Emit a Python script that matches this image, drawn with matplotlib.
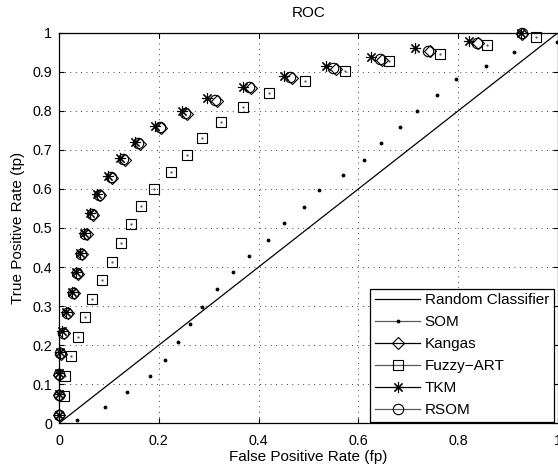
import matplotlib
matplotlib.use("Agg")
import matplotlib.pyplot as plt
from matplotlib.lines import Line2D

plt.rcParams['font.family'] = ['Liberation Sans', 'DejaVu Sans']

# ---- data ----
random_x = [0.0, 1.0]
random_y = [0.0, 1.0]

som_x = [0.037, 0.092, 0.136, 0.182, 0.213, 0.238, 0.263, 0.287, 0.317, 0.349,
         0.381, 0.419, 0.451, 0.491, 0.522, 0.569, 0.612, 0.646, 0.684, 0.718,
         0.757, 0.796, 0.856, 0.911, 0.997]
som_y = [0.008, 0.042, 0.081, 0.120, 0.163, 0.208, 0.254, 0.299, 0.343, 0.387,
         0.429, 0.470, 0.513, 0.554, 0.597, 0.635, 0.674, 0.717, 0.758, 0.800,
         0.840, 0.881, 0.915, 0.950, 0.976]

rsom_x = [0.000, 0.000, 0.000, 0.003, 0.009, 0.017, 0.029, 0.037, 0.045, 0.053,
          0.067, 0.080, 0.104, 0.129, 0.159, 0.202, 0.253, 0.313, 0.380, 0.463,
          0.550, 0.643, 0.739, 0.837, 0.927]
rsom_y = [0.020, 0.073, 0.125, 0.179, 0.232, 0.283, 0.334, 0.384, 0.434, 0.485,
          0.535, 0.585, 0.630, 0.677, 0.718, 0.758, 0.794, 0.828, 0.860, 0.886,
          0.910, 0.932, 0.954, 0.974, 0.998]

kangas_x = [0.001, 0.001, 0.001, 0.004, 0.010, 0.019, 0.031, 0.039, 0.047, 0.056,
            0.069, 0.083, 0.107, 0.132, 0.162, 0.205, 0.256, 0.317, 0.384, 0.467,
            0.555, 0.648, 0.743, 0.840, 0.928]
kangas_y = [0.020, 0.072, 0.124, 0.178, 0.231, 0.282, 0.333, 0.383, 0.433, 0.484,
            0.534, 0.584, 0.628, 0.675, 0.716, 0.756, 0.792, 0.826, 0.858, 0.884,
            0.908, 0.930, 0.952, 0.973, 0.997]

tkm_x = [0.000, 0.000, 0.000, 0.002, 0.007, 0.014, 0.026, 0.034, 0.042, 0.050,
         0.063, 0.076, 0.099, 0.122, 0.152, 0.192, 0.246, 0.297, 0.369, 0.450,
         0.535, 0.626, 0.713, 0.822, 0.925]
tkm_y = [0.022, 0.075, 0.128, 0.182, 0.235, 0.286, 0.337, 0.387, 0.437, 0.488,
         0.538, 0.588, 0.632, 0.679, 0.720, 0.761, 0.799, 0.832, 0.862, 0.889,
         0.915, 0.938, 0.962, 0.980, 0.999]

fuzzy_x = [0.010, 0.013, 0.025, 0.039, 0.052, 0.067, 0.087, 0.106, 0.125, 0.145,
           0.164, 0.191, 0.224, 0.257, 0.287, 0.325, 0.369, 0.421, 0.493, 0.573,
           0.662, 0.764, 0.857, 0.956]
fuzzy_y = [0.071, 0.122, 0.171, 0.221, 0.271, 0.319, 0.367, 0.414, 0.461, 0.509,
           0.556, 0.600, 0.643, 0.686, 0.730, 0.771, 0.809, 0.846, 0.876, 0.903,
           0.927, 0.945, 0.968, 0.989]

labels = ['Random Classifier', 'SOM', 'Kangas', 'Fuzzy\u2212ART', 'TKM', 'RSOM']
xticks = [0, 0.2, 0.4, 0.6, 0.8, 1]
xticklabels = ['0', '0.2', '0.4', '0.6', '0.8', '1']
yticks = [0, 0.1, 0.2, 0.3, 0.4, 0.5, 0.6, 0.7, 0.8, 0.9, 1]
yticklabels = ['0', '0.1', '0.2', '0.3', '0.4', '0.5', '0.6', '0.7', '0.8', '0.9', '1']

# ---- figure ----
fig = plt.figure(figsize=(5.58, 4.70), dpi=100)
ax = fig.add_axes([0.1057, 0.0994, 0.8943, 0.8310])

asterisk = (8, 2, 0)
ax.plot(random_x, random_y, '-', color='k', lw=0.9)
ax.plot(som_x, som_y, ls='none', marker='.', ms=3.5, color='k', clip_on=False)
ax.plot(kangas_x, kangas_y, ls='none', marker='D', ms=6.2, mfc='none', mec='k',
        mew=0.8, clip_on=False)
ax.plot(fuzzy_x, fuzzy_y, ls='none', marker='s', ms=6.5, mfc='none', mec='k',
        mew=0.8, clip_on=False)
ax.plot(fuzzy_x, fuzzy_y, ls='none', marker='.', ms=1.2, color='0.3', clip_on=False)
ax.plot(tkm_x, tkm_y, ls='none', marker=asterisk, ms=8, mfc='none', mec='k',
        mew=0.8, clip_on=False)
ax.plot(rsom_x, rsom_y, ls='none', marker='o', ms=7.5, mfc='none', mec='k',
        mew=0.8, clip_on=False)

ax.set_xlim(0, 1)
ax.set_ylim(0, 1)
ax.set_xticks(xticks)
ax.set_xticklabels(xticklabels)
ax.set_yticks(yticks)
ax.set_yticklabels(yticklabels)
ax.tick_params(direction='in', length=3.5, width=0.8, labelsize=10.3,
               top=True, right=True)
ax.tick_params(axis='x', pad=8)
ax.tick_params(axis='y', pad=5)
ax.grid(True, color='k', lw=0.6, ls=(0, (1, 5.5)))
for s in ax.spines.values():
    s.set_linewidth(0.9)

ax.set_title('ROC', fontsize=11, pad=11)
ax.set_xlabel('False Positive Rate (fp)', fontsize=11, labelpad=1)
ax.set_ylabel('True Positive Rate (tp)', fontsize=11, labelpad=5)

handles = [
    Line2D([], [], color='k', lw=0.9),
    Line2D([], [], color='0.35', lw=0.9, marker='.', ms=3.5, mfc='k', mec='k'),
    Line2D([], [], color='k', lw=0.9, marker='D', ms=6.2, mfc='none', mec='k', mew=0.8),
    Line2D([], [], color='0.35', lw=0.9, marker='s', ms=6.5, mfc='none', mec='k', mew=0.8),
    Line2D([], [], color='k', lw=0.9, marker=asterisk, ms=8, mfc='none', mec='k', mew=0.8),
    Line2D([], [], color='0.35', lw=0.9, marker='o', ms=7.5, mfc='none', mec='k', mew=0.8),
]
leg = ax.legend(handles, labels, loc='lower right', bbox_to_anchor=(0.992, 0.003),
                borderaxespad=0, fontsize=11, handlelength=2.95, handletextpad=0.3,
                labelspacing=0.52, borderpad=0.32, fancybox=False, framealpha=1,
                edgecolor='k')
leg.get_frame().set_linewidth(0.9)

fig.savefig('out.png', dpi=100)
